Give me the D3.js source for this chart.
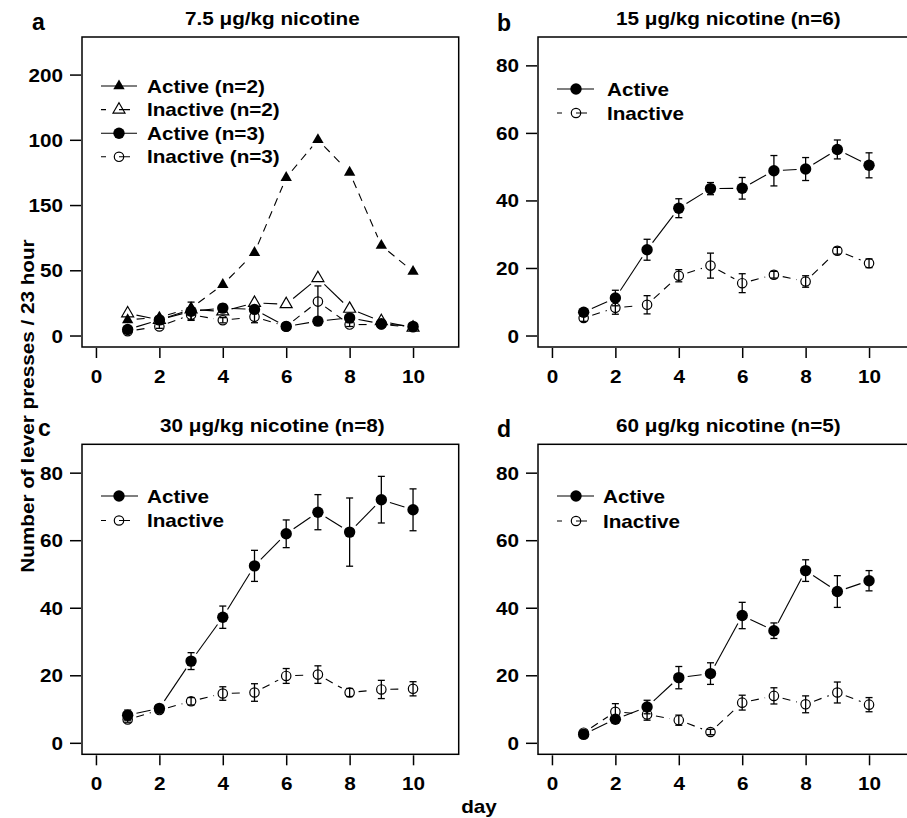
<!DOCTYPE html>
<html>
<head>
<meta charset="utf-8">
<script src="https://cdn.jsdelivr.net/npm/d3@7"></script>
<style>
  body { margin: 0; background: #fff; }
  svg text { font-family: "Liberation Sans", Arial, Helvetica, sans-serif; font-weight: bold; fill: #000; }
</style>
</head>
<body>
<svg id="chart" width="907" height="818"></svg>
<script>
const days = [1, 2, 3, 4, 5, 6, 7, 8, 9, 10];
const xTicks = [0, 2, 4, 6, 8, 10];

// panel a: tick positions and the labels printed at them (as in the figure)
const aTickValues = [0, 50, 100, 150, 200];
const aTickLabels = ['0', '50', '150', '100', '200'];
const bcdTickValues = [0, 20, 40, 60, 80];

// panel a, values in axis-position units
const aActive2 = [12, 14, 21, 39, 63.5, 121, 150, 125, 69, 49];
const aInactive2 = [17, 12, 20, 18.5, 25, 24, 44, 20.5, 11, 6];
const aActive3 = [4.6, 12, 18.6, 21, 20, 7, 11, 13.5, 9, 7];
const aActive3Err = [1.5, 2, 7, 3, 3, 1, 1, 2, 1, 1];
const aInactive3 = [3.3, 7, 16, 11.7, 14.3, 7, 26, 8.4, 8.4, 6.4];
const aInactive3Err = [1, 1.5, 4, 2, 4.5, 1, 12, 1.5, 1, 1];

// panel b, 15 ug/kg
const bActive = [6.9, 11.1, 25.4, 37.7, 43.5, 43.6, 48.8, 49.3, 55.1, 50.4];
const bActiveErr = [1, 2.3, 3.1, 2.8, 1.8, 3.2, 4.5, 3.4, 2.8, 3.7];
const bInactive = [5.2, 8.2, 9.1, 17.7, 20.7, 15.5, 18, 16, 25.1, 21.4];
const bInactiveErr = [1, 1.9, 2.7, 1.8, 3.7, 2.8, 1, 1.7, 1, 1.3];

// panel c, 30 ug/kg
const cActive = [8.2, 10.2, 24.2, 37.2, 52.4, 61.9, 68.3, 62.4, 72, 69];
const cActiveErr = [1.5, 1, 2.5, 3.3, 4.6, 4.1, 5.2, 10.1, 6.9, 6.2];
const cInactive = [6.9, 9.7, 12.3, 14.6, 14.9, 19.8, 20.2, 14.9, 15.8, 16];
const cInactiveErr = [0.8, 0.8, 1.1, 2, 2.6, 2.2, 2.6, 1.2, 2.7, 2.1];

// panel d, 60 ug/kg
const dActive = [2.5, 7, 10.6, 19.3, 20.5, 37.7, 33.2, 51, 44.8, 48];
const dActiveErr = [1, 1, 2, 3.3, 3.2, 3.9, 2.3, 3.2, 4.7, 3];
const dInactive = [3, 9.2, 8.4, 6.7, 3.2, 11.9, 13.9, 11.4, 14.9, 11.3];
const dInactiveErr = [0.8, 2.4, 1.7, 1.5, 0.8, 2.2, 2.4, 2.5, 3.1, 2.1];

const FS = 18;     // font size
const SX = 1.15;   // horizontal stretch of the lettering
const boxW = 376.7, boxH = 310;
const gap = 9;     // type="b" gap around points

const svg = d3.select('#chart');

const panels = [
  { letter: 'a', lx: 32, ly: 30, title: '7.5 μg/kg nicotine', left: 82, top: 37,
    yDomain: [-8.8, 228.8], yTicks: aTickValues, yLabels: aTickLabels,
    series: [
      { name: 'Active (n=2)', values: aActive2, err: null, mark: 'triFill', dashed: true, legDashed: false },
      { name: 'Inactive (n=2)', values: aInactive2, err: null, mark: 'triOpen', dashed: false, legDashed: true },
      { name: 'Active (n=3)', values: aActive3, err: aActive3Err, mark: 'circFill', dashed: false, legDashed: false },
      { name: 'Inactive (n=3)', values: aInactive3, err: aInactive3Err, mark: 'circOpen', dashed: true, legDashed: true }
    ],
    legend: { x1: 101, x2: 137, mx: 119, tx: 147, y: 86, step: 23.6 } },
  { letter: 'b', lx: 497, ly: 31, title: '15 μg/kg nicotine (n=6)', left: 538, top: 37,
    yDomain: [-3.4, 88.4], yTicks: bcdTickValues, yLabels: null,
    series: [
      { name: 'Active', values: bActive, err: bActiveErr, mark: 'circFill', dashed: false, legDashed: false },
      { name: 'Inactive', values: bInactive, err: bInactiveErr, mark: 'circOpen', dashed: true, legDashed: true }
    ],
    legend: { x1: 557, x2: 594, mx: 576, tx: 607, y: 89, step: 24 } },
  { letter: 'c', lx: 38, ly: 436, title: '30 μg/kg nicotine (n=8)', left: 82, top: 444.3,
    yDomain: [-3.4, 88.4], yTicks: bcdTickValues, yLabels: null,
    series: [
      { name: 'Active', values: cActive, err: cActiveErr, mark: 'circFill', dashed: false, legDashed: false },
      { name: 'Inactive', values: cInactive, err: cInactiveErr, mark: 'circOpen', dashed: true, legDashed: true }
    ],
    legend: { x1: 101, x2: 138, mx: 119, tx: 147, y: 496, step: 24.5 } },
  { letter: 'd', lx: 497, ly: 437, title: '60 μg/kg nicotine (n=5)', left: 538, top: 444.3,
    yDomain: [-3.4, 88.4], yTicks: bcdTickValues, yLabels: null,
    series: [
      { name: 'Active', values: dActive, err: dActiveErr, mark: 'circFill', dashed: false, legDashed: false },
      { name: 'Inactive', values: dInactive, err: dInactiveErr, mark: 'circOpen', dashed: true, legDashed: true }
    ],
    legend: { x1: 557, x2: 594, mx: 576, tx: 603, y: 496, step: 25 } }
];

function stretchedText(g, x, y, str, anchor) {
  return g.append('text')
    .attr('transform', `translate(${x},${y}) scale(${SX},1)`)
    .attr('text-anchor', anchor || 'start')
    .style('font-size', FS + 'px')
    .text(str);
}

function drawMark(g, type, cx, cy) {
  const sym = d3.symbol();
  if (type === 'circFill') {
    g.append('circle').attr('cx', cx).attr('cy', cy).attr('r', 5.7).attr('fill', '#000');
  } else if (type === 'circOpen') {
    g.append('circle').attr('cx', cx).attr('cy', cy).attr('r', 4.7)
      .attr('fill', 'none').attr('stroke', '#000').attr('stroke-width', 1.2);
  } else if (type === 'triFill') {
    g.append('path').attr('d', sym.type(d3.symbolTriangle).size(56)())
      .attr('transform', `translate(${cx},${cy})`).attr('fill', '#000');
  } else {
    g.append('path').attr('d', sym.type(d3.symbolTriangle).size(62)())
      .attr('transform', `translate(${cx},${cy})`)
      .attr('fill', 'none').attr('stroke', '#000').attr('stroke-width', 1.2);
  }
}

panels.forEach(p => {
  const g = svg.append('g');
  const x = d3.scaleLinear().domain([-0.44, 11.44]).range([p.left, p.left + boxW]);
  const y = d3.scaleLinear().domain(p.yDomain).range([p.top + boxH, p.top]);
  const bottom = p.top + boxH;

  // box
  g.append('rect').attr('x', p.left).attr('y', p.top).attr('width', boxW).attr('height', boxH)
    .attr('fill', 'none').attr('stroke', '#000').attr('stroke-width', 1.5);

  // x axis
  const xa = g.append('g').attr('transform', `translate(0,${bottom + 1})`)
    .call(d3.axisBottom(x).tickValues(xTicks).tickSize(10).tickFormat(d3.format('d')));
  xa.select('.domain').remove();
  xa.selectAll('line').attr('stroke-width', 1.5);
  xa.selectAll('text').attr('y', null).attr('dy', null)
    .attr('transform', `translate(0,34.7) scale(${SX},1)`)
    .style('font-size', FS + 'px');

  // y axis
  const ya = g.append('g').attr('transform', `translate(${p.left - 1},0)`)
    .call(d3.axisLeft(y).tickValues(p.yTicks).tickSize(11)
      .tickFormat((d, i) => p.yLabels ? p.yLabels[i] : d));
  ya.select('.domain').remove();
  ya.selectAll('line').attr('stroke-width', 1.5);
  ya.selectAll('text').attr('x', null).attr('dy', null)
    .attr('transform', `translate(-18,6.5) scale(${SX},1)`)
    .style('font-size', FS + 'px');
  ya.attr('font-family', null).attr('font-size', null);
  xa.attr('font-family', null).attr('font-size', null);

  // title and panel letter
  stretchedText(g, p.left + boxW / 2 + 2, p.top - 12, p.title, 'middle');
  g.append('text').attr('x', p.lx).attr('y', p.ly).style('font-size', '23px').text(p.letter);

  // series
  p.series.forEach(s => {
    const pts = days.map((d, i) => [x(d), y(s.values[i])]);
    const lines = g.append('g');
    for (let i = 0; i < pts.length - 1; i++) {
      const [x0, y0] = pts[i], [x1, y1] = pts[i + 1];
      const len = Math.hypot(x1 - x0, y1 - y0);
      if (len <= 2 * gap) continue;
      const ux = (x1 - x0) / len, uy = (y1 - y0) / len;
      lines.append('line')
        .attr('x1', x0 + ux * gap).attr('y1', y0 + uy * gap)
        .attr('x2', x1 - ux * gap).attr('y2', y1 - uy * gap)
        .attr('stroke', '#000').attr('stroke-width', 1.1)
        .attr('stroke-dasharray', s.dashed ? '8,6' : null);
    }
    if (s.err) {
      const eb = g.append('g').attr('stroke', '#000').attr('stroke-width', 1.3);
      days.forEach((d, i) => {
        const cx = x(d), yl = y(s.values[i] - s.err[i]), yh = y(s.values[i] + s.err[i]);
        eb.append('line').attr('x1', cx).attr('x2', cx).attr('y1', yl).attr('y2', yh);
        eb.append('line').attr('x1', cx - 3.5).attr('x2', cx + 3.5).attr('y1', yl).attr('y2', yl);
        eb.append('line').attr('x1', cx - 3.5).attr('x2', cx + 3.5).attr('y1', yh).attr('y2', yh);
      });
    }
    const mk = g.append('g');
    pts.forEach(([cx, cy]) => drawMark(mk, s.mark, cx, cy));
  });

  // legend
  const L = p.legend;
  p.series.forEach((s, i) => {
    const ly = L.y + i * L.step;
    g.append('line').attr('x1', L.x1).attr('x2', L.x2).attr('y1', ly).attr('y2', ly)
      .attr('stroke', '#000').attr('stroke-width', 1.1)
      .attr('stroke-dasharray', s.legDashed ? `5,${L.mx - L.x1 - 5},11,100` : null);
    drawMark(g, s.mark, L.mx, ly);
    stretchedText(g, L.tx, ly + 6.5, s.name, 'start');
  });
});

// shared axis titles
svg.append('text')
  .attr('transform', `translate(34,406) rotate(-90) scale(${SX},1)`)
  .attr('text-anchor', 'middle').style('font-size', FS + 'px')
  .text('Number of lever presses / 23 hour');
stretchedText(svg, 479, 813, 'day', 'middle');
</script>
</body>
</html>
